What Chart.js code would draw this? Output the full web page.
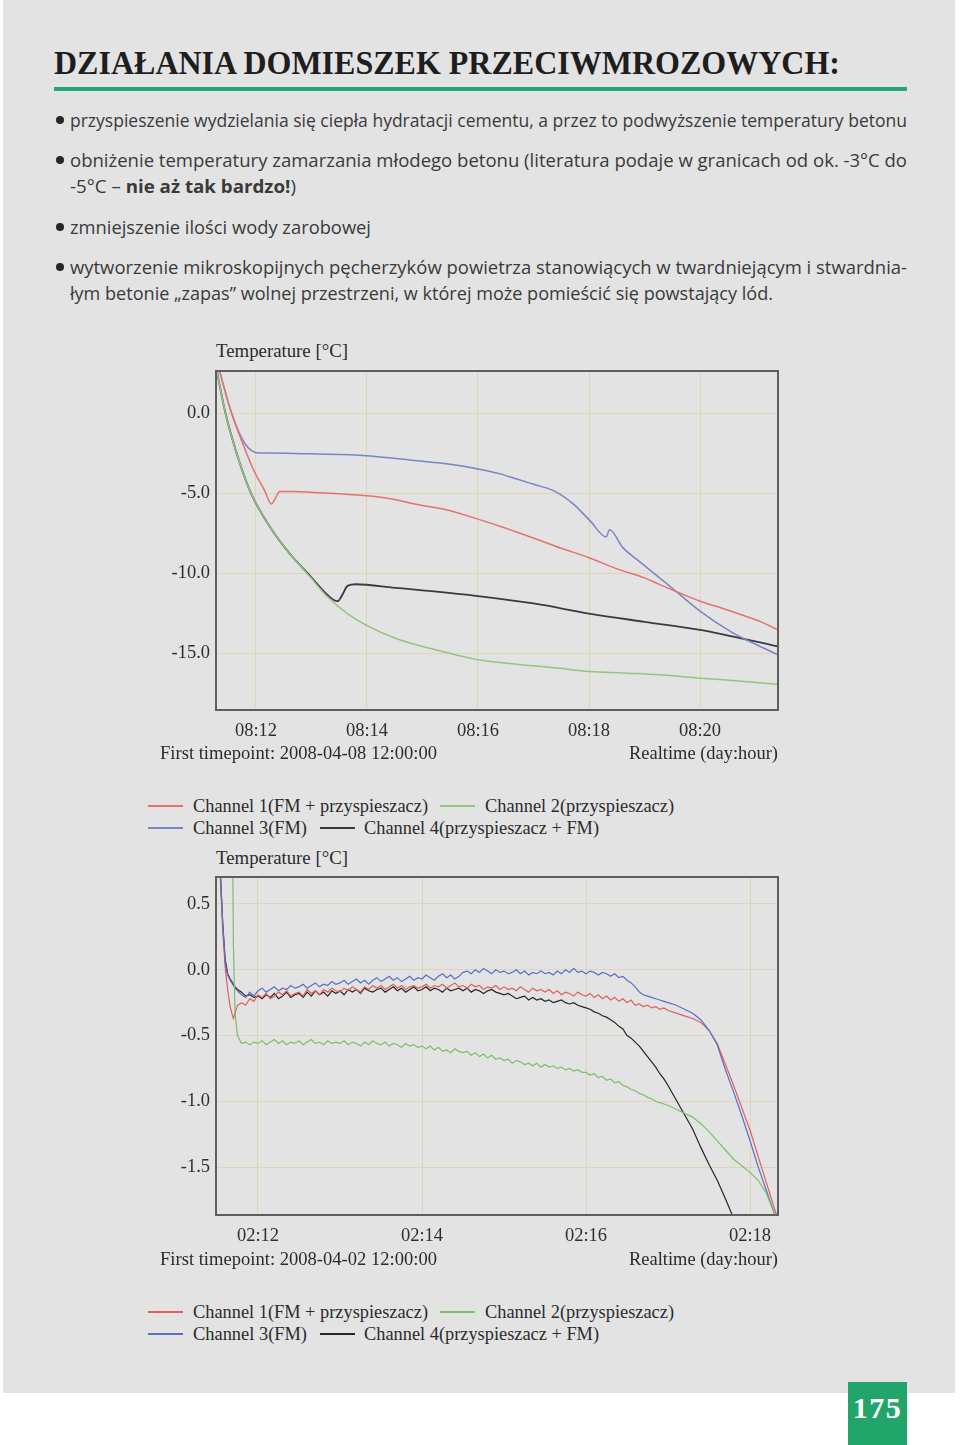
<!DOCTYPE html>
<html><head><meta charset="utf-8">
<script src="https://cdn.jsdelivr.net/npm/chart.js@4.4.1/dist/chart.umd.min.js"></script>
<style>
html,body{margin:0;padding:0;background:#fff;}
#page{position:relative;width:960px;height:1445px;overflow:hidden;background:#fff;}
#paper{position:absolute;left:3px;top:0;width:952px;height:1393px;background:#e3e3e3;}
.abs{position:absolute;white-space:nowrap;}
[data-w]{transform-origin:0 50%;}
.title{font-family:"Liberation Serif";font-weight:bold;font-size:33px;color:#1e1e1e;left:54px;top:43px;line-height:40px;}
.rule{left:54px;top:87px;width:853px;height:4px;background:#23a77a;}
.bl{font-family:"Open Sans";font-size:17.5px;color:#3a3a3a;left:70px;line-height:24px;}
.dot{width:8px;height:8px;border-radius:50%;background:#262626;left:56px;}
.serif{font-family:"Liberation Serif";font-size:19.5px;color:#2b2b2b;line-height:24px;}
.lgl{position:absolute;width:35px;}
canvas{position:absolute;}
.pn{left:848px;top:1382px;width:59px;height:63px;background:#22a56b;color:#fff;font-family:"Liberation Serif";font-weight:bold;font-size:30px;line-height:52px;text-align:center;letter-spacing:1.5px;}
</style></head>
<body><div id="page">
<div id="paper"></div>
<div class="abs title" data-w="786">DZIAŁANIA DOMIESZEK PRZECIWMROZOWYCH:</div>
<div class="abs rule"></div>

<div class="abs dot" style="top:116px"></div>
<div class="abs bl" style="top:108px" data-w="837">przyspieszenie wydzielania się ciepła hydratacji cementu, a przez to podwyższenie temperatury betonu</div>
<div class="abs dot" style="top:156px"></div>
<div class="abs bl" style="top:148px" data-w="837">obniżenie temperatury zamarzania młodego betonu (literatura podaje w granicach od ok. -3°C do</div>
<div class="abs bl" style="top:174px" data-w="226">-5°C – <b>nie aż tak bardzo!</b>)</div>
<div class="abs dot" style="top:223px"></div>
<div class="abs bl" style="top:215px" data-w="301">zmniejszenie ilości wody zarobowej</div>
<div class="abs dot" style="top:263px"></div>
<div class="abs bl" style="top:255px" data-w="837">wytworzenie mikroskopijnych pęcherzyków powietrza stanowiących w twardniejącym i stwardnia-</div>
<div class="abs bl" style="top:281px" data-w="703">łym betonie „zapas” wolnej przestrzeni, w której może pomieścić się powstający lód.</div>

<div class="abs serif" style="left:216px;top:339px" data-w="132">Temperature [°C]</div>
<canvas id="c1" width="650" height="380" style="left:140px;top:365px;width:650px;height:380px"></canvas>
<div class="abs serif" style="left:160px;top:741px" data-w="277">First timepoint: 2008-04-08 12:00:00</div>
<div class="abs serif" style="left:629px;top:741px" data-w="149">Realtime (day:hour)</div>
<div id="lg1"></div>

<div class="abs serif" style="left:216px;top:846px" data-w="132">Temperature [°C]</div>
<canvas id="c2" width="650" height="384" style="left:140px;top:866px;width:650px;height:384px"></canvas>
<div class="abs serif" style="left:160px;top:1247px" data-w="277">First timepoint: 2008-04-02 12:00:00</div>
<div class="abs serif" style="left:629px;top:1247px" data-w="149">Realtime (day:hour)</div>
<div id="lg2"></div>

<div class="abs pn">175</div>
</div>
<script>
// ---------- DATA ----------
const seriesNames = ["Channel 1(FM + przyspieszacz)", "Channel 2(przyspieszacz)", "Channel 3(FM)", "Channel 4(przyspieszacz + FM)"];

// Chart 1 (hours of day 08)
const c1xTicks = [12, 14, 16, 18, 20];
const c1xLabels = ["08:12", "08:14", "08:16", "08:18", "08:20"];
const c1yTicks = [0, -5, -10, -15];
const c1ch1x = [11.30, 11.56, 11.75, 11.95, 12.15, 12.28, 12.33, 12.43, 12.70, 13.03, 13.50, 14.00, 14.50, 14.86, 15.50, 16.00, 16.50, 17.06, 17.50, 18.00, 18.53, 19.00, 19.27, 19.60, 20.00, 20.40, 20.73, 21.10, 21.40];
const c1ch1y = [3.2, 0.0, -1.8, -3.5, -4.80, -5.69, -5.45, -4.90, -4.90, -4.96, -5.05, -5.17, -5.40, -5.69, -6.10, -6.63, -7.20, -7.89, -8.45, -9.04, -9.77, -10.30, -10.71, -11.20, -11.76, -12.20, -12.59, -13.05, -13.55];
const c1ch2x = [11.28, 11.45, 11.66, 11.91, 12.26, 12.62, 12.99, 13.28, 13.76, 14.50, 15.23, 16.00, 16.70, 17.43, 18.00, 18.60, 19.27, 20.00, 20.70, 21.40];
const c1ch2y = [2.9, 0.0, -2.6, -5.0, -7.15, -8.83, -10.30, -11.45, -12.80, -14.06, -14.79, -15.42, -15.70, -15.94, -16.15, -16.25, -16.36, -16.57, -16.75, -16.95];
const c1ch3x = [11.30, 11.56, 11.80, 12.04, 12.30, 13.00, 14.00, 14.86, 15.50, 16.00, 16.40, 16.70, 17.00, 17.36, 17.72, 18.02, 18.31, 18.37, 18.61, 18.90, 19.20, 19.49, 20.00, 20.59, 21.00, 21.40];
const c1ch3y = [3.2, 0.0, -1.9, -2.49, -2.50, -2.55, -2.66, -2.97, -3.20, -3.49, -3.80, -4.12, -4.45, -4.85, -5.69, -6.74, -7.74, -7.30, -8.41, -9.25, -10.10, -10.92, -12.38, -13.74, -14.45, -15.10];
const c1ch4x = [11.28, 11.45, 11.66, 11.91, 12.26, 12.62, 12.99, 13.28, 13.47, 13.55, 13.65, 13.80, 14.50, 15.00, 16.00, 17.00, 18.00, 19.00, 20.00, 21.40];
const c1ch4y = [2.9, 0.0, -2.6, -5.0, -7.15, -8.83, -10.23, -11.34, -11.76, -11.40, -10.80, -10.70, -10.92, -11.08, -11.44, -11.90, -12.53, -13.05, -13.55, -14.58];

// Chart 2 (hours of day 02)
const c2xTicks = [12, 14, 16, 18];
const c2xLabels = ["02:12", "02:14", "02:16", "02:18"];
const c2yTicks = [0.5, 0, -0.5, -1.0, -1.5];
const c2x = [11.50,11.54,11.57,11.60,11.63,11.66,11.69,11.70,11.72,11.75,11.80,11.85,11.90,11.95,
  12.00,12.05,12.10,12.15,12.20,12.25,12.30,12.35,12.40,12.45,
  12.50,12.55,12.60,12.65,12.70,12.75,12.80,12.85,12.90,12.95,
  13.00,13.05,13.10,13.15,13.20,13.25,13.30,13.35,13.40,13.45,
  13.50,13.55,13.60,13.65,13.70,13.75,13.80,13.85,13.90,13.95,
  14.00,14.05,14.10,14.15,14.20,14.25,14.30,14.35,14.40,14.45,
  14.50,14.55,14.60,14.65,14.70,14.75,14.80,14.85,14.90,14.95,
  15.00,15.05,15.10,15.15,15.20,15.25,15.30,15.35,15.40,15.45,
  15.50,15.55,15.60,15.65,15.70,15.75,15.80,15.85,15.90,15.95,
  16.00,16.05,16.10,16.15,16.20,16.25,16.30,16.35,16.40,16.45,
  16.50,16.55,16.60,16.65,16.70,16.75,16.80,16.85,16.90,16.95,
  17.0,17.1,17.2,17.3,17.4,17.5,17.6,17.7,17.8,17.9,
  18.0,18.1,18.2,18.3,18.4];
const c2ch1 = [1.5,0.70,0.30,0.02,-0.15,-0.28,-0.35,-0.37,-0.33,-0.27,-0.25,-0.27,-0.22,-0.24,
  -0.19,-0.21,-0.18,-0.22,-0.20,-0.17,-0.19,-0.16,-0.20,-0.18,
  -0.17,-0.20,-0.15,-0.18,-0.16,-0.19,-0.15,-0.17,-0.14,-0.16,
  -0.17,-0.14,-0.16,-0.13,-0.15,-0.17,-0.13,-0.15,-0.12,-0.14,
  -0.12,-0.15,-0.13,-0.11,-0.14,-0.12,-0.15,-0.13,-0.12,-0.14,
  -0.13,-0.11,-0.14,-0.12,-0.13,-0.11,-0.14,-0.12,-0.10,-0.13,
  -0.12,-0.14,-0.11,-0.13,-0.12,-0.15,-0.13,-0.14,-0.12,-0.15,
  -0.13,-0.15,-0.14,-0.16,-0.13,-0.15,-0.17,-0.14,-0.16,-0.15,
  -0.17,-0.15,-0.18,-0.16,-0.19,-0.17,-0.18,-0.20,-0.17,-0.19,
  -0.20,-0.18,-0.21,-0.19,-0.22,-0.20,-0.23,-0.21,-0.24,-0.22,
  -0.25,-0.23,-0.27,-0.26,-0.28,-0.27,-0.29,-0.28,-0.30,-0.29,
  -0.31,-0.33,-0.35,-0.37,-0.40,-0.46,-0.56,-0.72,-0.88,-1.05,
  -1.22,-1.42,-1.62,-1.82,-2.0];
const c2ch2 = [null,null,null,null,null,null,1.0,0.2,-0.33,-0.50,-0.56,-0.55,-0.57,-0.55,
  -0.56,-0.54,-0.57,-0.55,-0.53,-0.56,-0.54,-0.57,-0.55,-0.56,
  -0.54,-0.57,-0.55,-0.53,-0.56,-0.55,-0.57,-0.54,-0.56,-0.55,
  -0.56,-0.54,-0.57,-0.55,-0.56,-0.58,-0.55,-0.57,-0.54,-0.56,
  -0.57,-0.55,-0.58,-0.56,-0.57,-0.59,-0.56,-0.58,-0.57,-0.59,
  -0.58,-0.60,-0.58,-0.61,-0.59,-0.62,-0.61,-0.63,-0.60,-0.62,
  -0.63,-0.62,-0.65,-0.63,-0.66,-0.64,-0.67,-0.65,-0.68,-0.67,
  -0.69,-0.68,-0.71,-0.69,-0.70,-0.72,-0.71,-0.73,-0.71,-0.74,
  -0.72,-0.74,-0.73,-0.75,-0.74,-0.76,-0.75,-0.77,-0.76,-0.78,
  -0.78,-0.80,-0.79,-0.82,-0.81,-0.84,-0.83,-0.86,-0.85,-0.88,
  -0.89,-0.91,-0.92,-0.94,-0.95,-0.97,-0.98,-1.00,-1.01,-1.02,
  -1.03,-1.06,-1.09,-1.12,-1.17,-1.23,-1.30,-1.37,-1.44,-1.49,
  -1.54,-1.60,-1.70,-1.86,-2.0];
const c2ch3 = [1.5,0.75,0.35,0.05,-0.04,-0.08,-0.11,-0.12,-0.14,-0.16,-0.19,-0.21,-0.17,-0.20,
  -0.16,-0.14,-0.17,-0.15,-0.13,-0.16,-0.14,-0.15,-0.12,-0.14,
  -0.13,-0.11,-0.14,-0.12,-0.10,-0.13,-0.11,-0.12,-0.09,-0.11,
  -0.10,-0.08,-0.11,-0.09,-0.07,-0.10,-0.08,-0.11,-0.08,-0.06,
  -0.09,-0.07,-0.05,-0.08,-0.06,-0.09,-0.07,-0.05,-0.08,-0.06,
  -0.07,-0.04,-0.06,-0.08,-0.05,-0.03,-0.06,-0.04,-0.07,-0.05,
  -0.02,-0.01,-0.03,0.00,-0.02,0.01,-0.01,-0.03,0.00,-0.02,
  -0.01,-0.03,-0.02,0.00,-0.03,-0.01,-0.04,-0.02,-0.03,-0.01,
  -0.03,-0.02,-0.04,-0.01,-0.03,0.00,-0.02,0.01,-0.02,-0.01,
  -0.03,-0.01,-0.02,-0.04,-0.02,-0.03,-0.05,-0.03,-0.06,-0.05,
  -0.08,-0.10,-0.13,-0.17,-0.19,-0.20,-0.21,-0.22,-0.23,-0.24,
  -0.25,-0.27,-0.30,-0.33,-0.38,-0.46,-0.57,-0.76,-0.93,-1.11,
  -1.30,-1.50,-1.68,-1.86,-2.05];
const c2ch4 = [1.5,0.75,0.35,0.08,-0.03,-0.07,-0.10,-0.11,-0.13,-0.15,-0.17,-0.20,-0.19,-0.21,
  -0.20,-0.22,-0.19,-0.21,-0.18,-0.22,-0.20,-0.17,-0.21,-0.19,
  -0.18,-0.21,-0.17,-0.20,-0.16,-0.19,-0.17,-0.20,-0.16,-0.18,
  -0.16,-0.19,-0.15,-0.17,-0.15,-0.18,-0.14,-0.16,-0.17,-0.15,
  -0.14,-0.17,-0.15,-0.13,-0.16,-0.14,-0.17,-0.15,-0.13,-0.16,
  -0.15,-0.13,-0.16,-0.14,-0.15,-0.17,-0.14,-0.16,-0.15,-0.14,
  -0.16,-0.14,-0.17,-0.15,-0.16,-0.18,-0.16,-0.15,-0.17,-0.18,
  -0.19,-0.18,-0.20,-0.22,-0.21,-0.20,-0.23,-0.21,-0.23,-0.22,
  -0.24,-0.23,-0.25,-0.24,-0.23,-0.25,-0.26,-0.25,-0.27,-0.28,
  -0.29,-0.30,-0.32,-0.33,-0.35,-0.36,-0.38,-0.40,-0.43,-0.45,
  -0.50,-0.52,-0.55,-0.58,-0.62,-0.66,-0.70,-0.74,-0.79,-0.83,
  -0.88,-0.99,-1.10,-1.21,-1.35,-1.48,-1.60,-1.74,-1.89,-2.05,
  null,null,null,null,null];

// ---------- STYLE ----------
const colors1 = ["#e2736c", "#94c580", "#7985c2", "#3a3a44"];
const colors2 = ["#e05e5e", "#7cbf68", "#5a6ec6", "#262626"];
const serif = "Liberation Serif";

const framePlugin = {
  id: "frame",
  afterDatasetsDraw(c) {
    const a = c.chartArea, ctx = c.ctx;
    ctx.save(); ctx.strokeStyle = "#5e5e5e"; ctx.lineWidth = 2;
    ctx.strokeRect(a.left, a.top, a.right - a.left, a.bottom - a.top);
    ctx.restore();
  }
};

function makeChart(id, datasets, xr, yr, xTicks, xLabels, yTicks, padTop) {
  return new Chart(document.getElementById(id), {
    type: "line",
    data: { datasets },
    options: {
      responsive: false, animation: false,
      layout: { padding: { top: padTop, right: 12, left: 0, bottom: 0 } },
      plugins: { legend: { display: false }, tooltip: { enabled: false } },
      elements: { point: { radius: 0 } },
      scales: {
        x: {
          type: "linear", min: xr[0], max: xr[1],
          afterBuildTicks: ax => { ax.ticks = xTicks.map(v => ({ value: v })); },
          afterFit: ax => { ax.height = 35; ax.paddingLeft = 0; ax.paddingRight = 0; },
          grid: { color: "rgba(222,200,150,0.55)", drawTicks: false, lineWidth: 1 },
          border: { display: false },
          ticks: { autoSkip: false, maxRotation: 0, padding: 10, color: "#2e2e2e",
            font: { family: serif, size: 18.5 },
            callback: v => xLabels[xTicks.indexOf(v)] }
        },
        y: {
          type: "linear", min: yr[0], max: yr[1],
          afterBuildTicks: ax => { ax.ticks = yTicks.map(v => ({ value: v })); },
          afterFit: ax => { ax.width = 76; ax.paddingTop = 0; ax.paddingBottom = 0; },
          grid: { color: "rgba(222,200,150,0.55)", drawTicks: false, lineWidth: 1 },
          border: { display: false },
          ticks: { autoSkip: false, padding: 6, color: "#2e2e2e",
            font: { family: serif, size: 18.5 },
            callback: v => v.toFixed(1) }
        }
      }
    },
    plugins: [framePlugin]
  });
}

const pts = (xs, ys) => xs.map((x, i) => ({ x, y: ys[i] }));

const ds1 = [
  [c1ch1x, c1ch1y], [c1ch2x, c1ch2y], [c1ch3x, c1ch3y], [c1ch4x, c1ch4y]
].map((p, i) => ({
  label: seriesNames[i], data: pts(p[0], p[1]), borderColor: colors1[i],
  borderWidth: i === 3 ? 1.8 : 1.5, cubicInterpolationMode: "monotone", tension: 0.4
}));
const ds1order = [ds1[1], ds1[0], ds1[2], ds1[3]];

const ds2 = [c2ch1, c2ch2, c2ch3, c2ch4].map((ys, i) => ({
  label: seriesNames[i], data: pts(c2x, ys), borderColor: colors2[i],
  borderWidth: 1.2, tension: 0, spanGaps: false
}));
const ds2order = [ds2[1], ds2[2], ds2[0], ds2[3]];

makeChart("c1", ds1order, [11.28, 21.405], [-18.56, 2.63], c1xTicks, c1xLabels, c1yTicks, 6);
makeChart("c2", ds2order, [11.488, 18.341], [-1.864, 0.705], c2xTicks, c2xLabels, c2yTicks, 11);

// ---------- LEGENDS (built from series names/colours) ----------
// [series index, line x, text x, text width, row]
const legendSlots = [[0, 148, 193, 235, 0], [1, 440, 485, 189, 0], [2, 148, 193, 114, 1], [3, 320, 364, 235, 1]];
function legend(hostId, cols, rowCenters) {
  const host = document.getElementById(hostId);
  legendSlots.forEach(([k, lx, tx, tw, r]) => {
    const cy = rowCenters[r];
    const ln = document.createElement("div");
    ln.className = "lgl";
    const h = k === 3 ? 2 : 1.4;
    ln.style.left = lx + "px"; ln.style.top = (cy - h / 2) + "px";
    ln.style.height = h + "px"; ln.style.background = cols[k];
    host.appendChild(ln);
    const t = document.createElement("div");
    t.className = "abs serif"; t.textContent = seriesNames[k];
    t.style.left = tx + "px"; t.style.top = (cy - 12) + "px";
    t.dataset.w = tw;
    host.appendChild(t);
  });
}
legend("lg1", colors1, [806, 828]);
legend("lg2", colors2, [1312, 1334]);

function fitAll() {
  document.querySelectorAll("[data-w]").forEach(el => {
    el.style.transform = "none";
    const w = el.getBoundingClientRect().width;
    el.style.transform = "scaleX(" + (+el.dataset.w / w) + ")";
  });
}
fitAll();
if (document.fonts) document.fonts.ready.then(fitAll);
</script>
</body></html>
